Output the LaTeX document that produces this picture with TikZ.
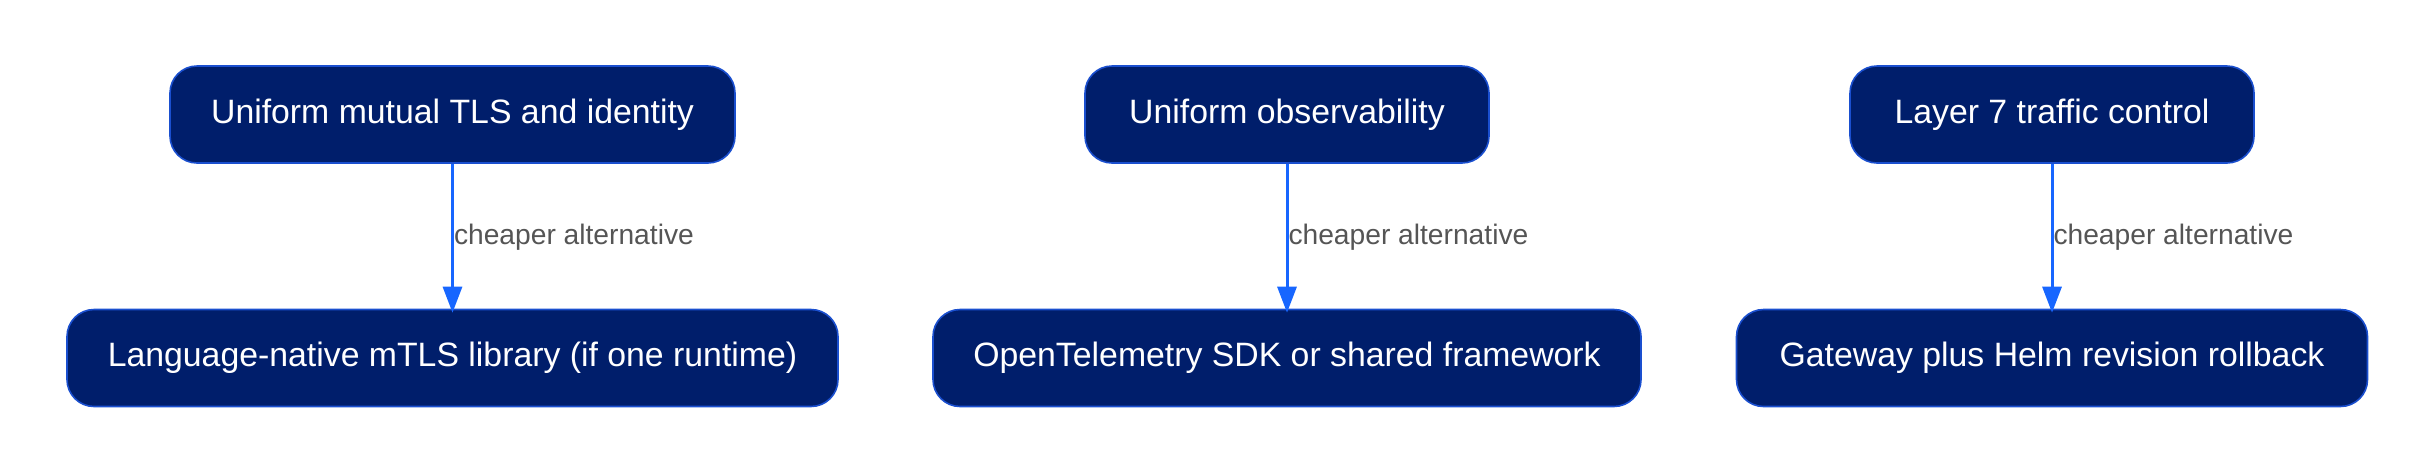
\documentclass[tikz,border=0pt]{standalone}
\usepackage{fontspec}
\setmainfont{Liberation Sans}
\usetikzlibrary{arrows.meta}
\definecolor{nodefill}{HTML}{001E6B}
\definecolor{nodeborder}{HTML}{1A4FCF}
\definecolor{arrowblue}{HTML}{1766FF}
\definecolor{labelgray}{HTML}{555555}
\begin{document}
\begin{tikzpicture}[x=1pt,y=1pt,
  box/.style={draw=nodeborder, line width=0.8pt, fill=nodefill, rounded corners=13.5pt,
    text=white, font=\fontsize{16.9}{19}\selectfont, minimum height=48.5pt, inner sep=0pt},
  conn/.style={draw=arrowblue, line width=1.5pt, -{Triangle[length=13pt,width=9.5pt]}, shorten >=-2pt},
  lbl/.style={text=labelgray, font=\fontsize{14.1}{16}\selectfont, inner sep=0pt, anchor=west}
]
\useasboundingbox (0,0) rectangle (1217,-236.5);
\node[box, minimum width=282.5pt] (t1) at (226.25,-57.25) {Uniform mutual TLS and identity};
\node[box, minimum width=385.5pt] (b1) at (226.25,-179) {Language-native mTLS library (if one runtime)};
\node[box, minimum width=202pt] (t2) at (643.5,-57.25) {Uniform observability};
\node[box, minimum width=354pt] (b2) at (643.5,-179) {OpenTelemetry SDK or shared framework};
\node[box, minimum width=202pt] (t3) at (1026,-57.25) {Layer 7 traffic control};
\node[box, minimum width=315.5pt] (b3) at (1026,-179) {Gateway plus Helm revision rollback};
\draw[conn] (t1) -- (b1) node[lbl, pos=0.5, xshift=0pt, yshift=-0.5pt] {cheaper alternative};
\draw[conn] (t2) -- (b2) node[lbl, pos=0.5, xshift=0pt, yshift=-0.5pt] {cheaper alternative};
\draw[conn] (t3) -- (b3) node[lbl, pos=0.5, xshift=0pt, yshift=-0.5pt] {cheaper alternative};
\end{tikzpicture}
\end{document}
